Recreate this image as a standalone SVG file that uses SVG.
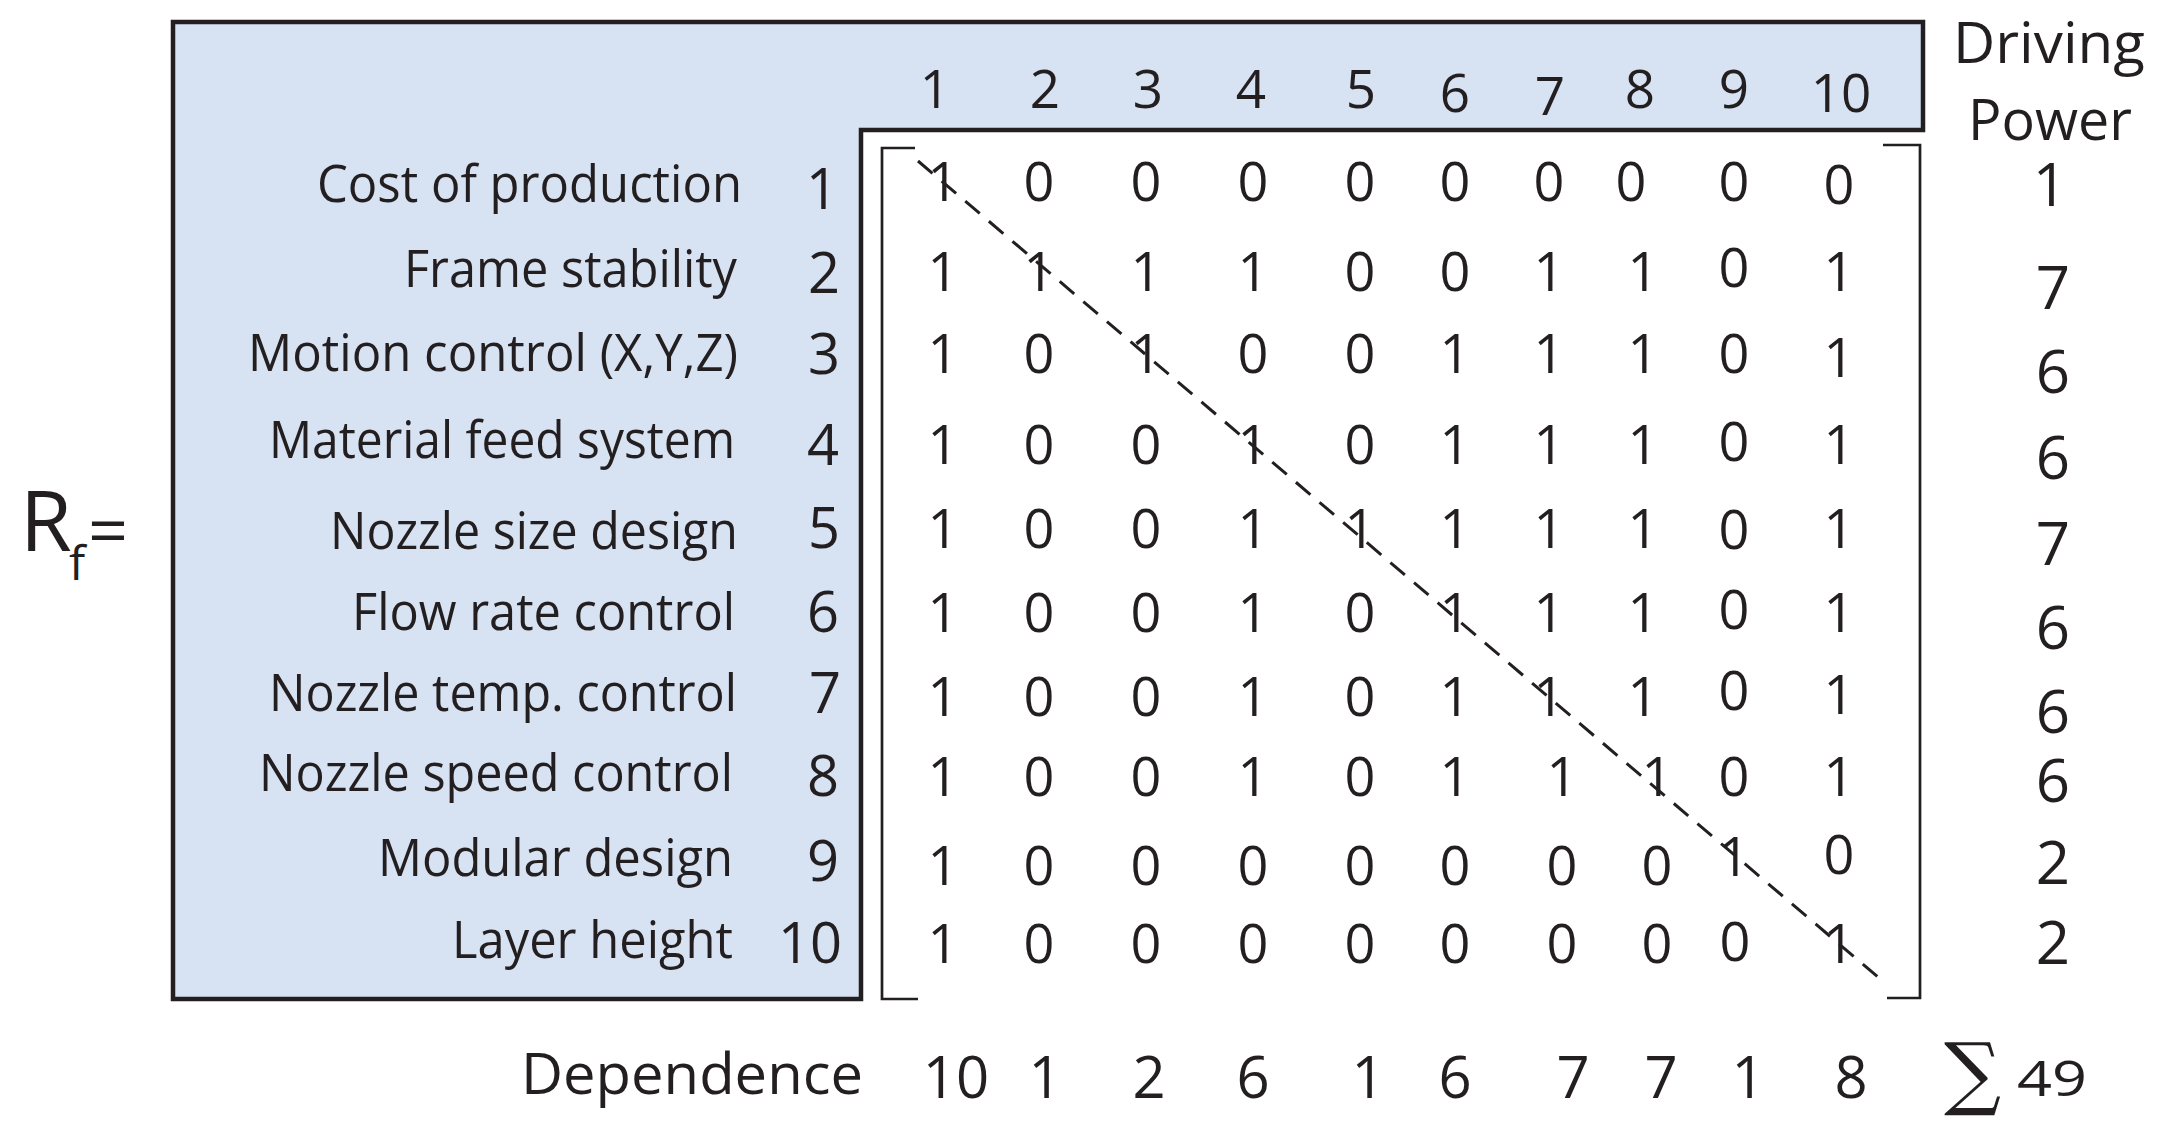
<svg xmlns="http://www.w3.org/2000/svg" width="2164" height="1139" viewBox="0 0 2164 1139">
<style>
.t{font-family:"Open Sans","Noto Sans","Liberation Sans",sans-serif;fill:#231F20}
.lab{font-size:51px}
.num{font-size:56px;text-anchor:middle}
.hd{font-size:53px;text-anchor:middle}
.v{font-size:54px;text-anchor:middle}
.dp{font-size:60px;text-anchor:middle}
.dep{font-size:58px;text-anchor:middle}
.frame{fill:#D7E2F2;stroke:#231F20;stroke-width:4.5;stroke-linejoin:miter}
.br{fill:none;stroke:#231F20;stroke-width:2.7}
.diag{fill:none;stroke:#231F20;stroke-width:3;stroke-dasharray:19 12}
</style>
<rect width="2164" height="1139" fill="#FFFFFF"/>
<g id="frame">
<polygon class="frame" points="173,22 1923,22 1923,130 861,130 861,999 173,999"/>
</g>
<g id="brackets">
<polyline class="br" points="915,148 882,148 882,999 918,999"/>
<polyline class="br" points="1883,145 1920,145 1920,998 1887,998"/>
</g>
<g id="rf">
<text class="t" x="20" y="551" font-size="84">R</text>
<text class="t" x="69" y="580" font-size="48">f</text>
<text class="t" x="88" y="555" font-size="70">=</text>
</g>
<g id="column-headers">
<text class="t hd" x="935" y="108">1</text>
<text class="t hd" x="1045" y="108">2</text>
<text class="t hd" x="1148" y="108">3</text>
<text class="t hd" x="1251" y="108">4</text>
<text class="t hd" x="1361" y="108">5</text>
<text class="t hd" x="1455" y="112">6</text>
<text class="t hd" x="1550" y="115">7</text>
<text class="t hd" x="1640" y="108">8</text>
<text class="t hd" x="1734" y="108">9</text>
<text class="t hd" x="1841" y="112">10</text>
</g>
<g id="row-labels">
<text class="t lab" x="317" y="202" textLength="425" lengthAdjust="spacingAndGlyphs">Cost of production</text>
<text class="t lab" x="404" y="287" textLength="333" lengthAdjust="spacingAndGlyphs">Frame stability</text>
<text class="t lab" x="248" y="371" textLength="490" lengthAdjust="spacingAndGlyphs">Motion control (X,Y,Z)</text>
<text class="t lab" x="269" y="458" textLength="466" lengthAdjust="spacingAndGlyphs">Material feed system</text>
<text class="t lab" x="330" y="549" textLength="408" lengthAdjust="spacingAndGlyphs">Nozzle size design</text>
<text class="t lab" x="352" y="630" textLength="383" lengthAdjust="spacingAndGlyphs">Flow rate control</text>
<text class="t lab" x="269" y="711" textLength="468" lengthAdjust="spacingAndGlyphs">Nozzle temp. control</text>
<text class="t lab" x="259" y="791" textLength="474" lengthAdjust="spacingAndGlyphs">Nozzle speed control</text>
<text class="t lab" x="378" y="876" textLength="355" lengthAdjust="spacingAndGlyphs">Modular design</text>
<text class="t lab" x="452" y="958" textLength="281" lengthAdjust="spacingAndGlyphs">Layer height</text>
</g>
<g id="row-numbers">
<text class="t num" x="822" y="209">1</text>
<text class="t num" x="824" y="293">2</text>
<text class="t num" x="824" y="374">3</text>
<text class="t num" x="823" y="465">4</text>
<text class="t num" x="824" y="548">5</text>
<text class="t num" x="823" y="632">6</text>
<text class="t num" x="825" y="713">7</text>
<text class="t num" x="823" y="796">8</text>
<text class="t num" x="823" y="881">9</text>
<text class="t num" x="810" y="963">10</text>
</g>
<g id="matrix">
<g id="row1">
<text class="t v" x="943" y="201">1</text><text class="t v" x="1039" y="201">0</text><text class="t v" x="1146" y="201">0</text><text class="t v" x="1253" y="201">0</text><text class="t v" x="1360" y="201">0</text><text class="t v" x="1455" y="201">0</text><text class="t v" x="1549" y="201">0</text><text class="t v" x="1631" y="201">0</text><text class="t v" x="1734" y="201">0</text><text class="t v" x="1839" y="204">0</text>
</g>
<g id="row2">
<text class="t v" x="943" y="291">1</text><text class="t v" x="1039" y="291">1</text><text class="t v" x="1146" y="291">1</text><text class="t v" x="1253" y="291">1</text><text class="t v" x="1360" y="291">0</text><text class="t v" x="1455" y="291">0</text><text class="t v" x="1549" y="291">1</text><text class="t v" x="1643" y="291">1</text><text class="t v" x="1734" y="287">0</text><text class="t v" x="1839" y="291">1</text>
</g>
<g id="row3">
<text class="t v" x="943" y="373">1</text><text class="t v" x="1039" y="373">0</text><text class="t v" x="1146" y="373">1</text><text class="t v" x="1253" y="373">0</text><text class="t v" x="1360" y="373">0</text><text class="t v" x="1455" y="373">1</text><text class="t v" x="1549" y="373">1</text><text class="t v" x="1643" y="373">1</text><text class="t v" x="1734" y="373">0</text><text class="t v" x="1839" y="377">1</text>
</g>
<g id="row4">
<text class="t v" x="943" y="464">1</text><text class="t v" x="1039" y="464">0</text><text class="t v" x="1146" y="464">0</text><text class="t v" x="1253" y="464">1</text><text class="t v" x="1360" y="464">0</text><text class="t v" x="1455" y="464">1</text><text class="t v" x="1549" y="464">1</text><text class="t v" x="1643" y="464">1</text><text class="t v" x="1734" y="461">0</text><text class="t v" x="1839" y="464">1</text>
</g>
<g id="row5">
<text class="t v" x="943" y="548">1</text><text class="t v" x="1039" y="548">0</text><text class="t v" x="1146" y="548">0</text><text class="t v" x="1253" y="548">1</text><text class="t v" x="1360" y="548">1</text><text class="t v" x="1455" y="548">1</text><text class="t v" x="1549" y="548">1</text><text class="t v" x="1643" y="548">1</text><text class="t v" x="1734" y="549">0</text><text class="t v" x="1839" y="548">1</text>
</g>
<g id="row6">
<text class="t v" x="943" y="632">1</text><text class="t v" x="1039" y="632">0</text><text class="t v" x="1146" y="632">0</text><text class="t v" x="1253" y="632">1</text><text class="t v" x="1360" y="632">0</text><text class="t v" x="1455" y="632">1</text><text class="t v" x="1549" y="632">1</text><text class="t v" x="1643" y="632">1</text><text class="t v" x="1734" y="629">0</text><text class="t v" x="1839" y="632">1</text>
</g>
<g id="row7">
<text class="t v" x="943" y="716">1</text><text class="t v" x="1039" y="716">0</text><text class="t v" x="1146" y="716">0</text><text class="t v" x="1253" y="716">1</text><text class="t v" x="1360" y="716">0</text><text class="t v" x="1455" y="716">1</text><text class="t v" x="1549" y="716">1</text><text class="t v" x="1643" y="716">1</text><text class="t v" x="1734" y="710">0</text><text class="t v" x="1839" y="714">1</text>
</g>
<g id="row8">
<text class="t v" x="943" y="796">1</text><text class="t v" x="1039" y="796">0</text><text class="t v" x="1146" y="796">0</text><text class="t v" x="1253" y="796">1</text><text class="t v" x="1360" y="796">0</text><text class="t v" x="1455" y="796">1</text><text class="t v" x="1562" y="796">1</text><text class="t v" x="1657" y="796">1</text><text class="t v" x="1734" y="796">0</text><text class="t v" x="1839" y="796">1</text>
</g>
<g id="row9">
<text class="t v" x="943" y="885">1</text><text class="t v" x="1039" y="885">0</text><text class="t v" x="1146" y="885">0</text><text class="t v" x="1253" y="885">0</text><text class="t v" x="1360" y="885">0</text><text class="t v" x="1455" y="885">0</text><text class="t v" x="1562" y="885">0</text><text class="t v" x="1657" y="885">0</text><text class="t v" x="1734" y="876">1</text><text class="t v" x="1839" y="874">0</text>
</g>
<g id="row10">
<text class="t v" x="943" y="963">1</text><text class="t v" x="1039" y="963">0</text><text class="t v" x="1146" y="963">0</text><text class="t v" x="1253" y="963">0</text><text class="t v" x="1360" y="963">0</text><text class="t v" x="1455" y="963">0</text><text class="t v" x="1562" y="963">0</text><text class="t v" x="1657" y="963">0</text><text class="t v" x="1735" y="961">0</text><text class="t v" x="1839" y="963">1</text>
</g>
</g>
<g id="diagonal">
<line class="diag" x1="918" y1="161" x2="1885" y2="983"/>
</g>
<g id="driving-power">
<text class="t" x="1953" y="63" font-size="57" textLength="192" lengthAdjust="spacingAndGlyphs">Driving</text>
<text class="t" x="1968" y="140" font-size="57" textLength="164" lengthAdjust="spacingAndGlyphs">Power</text>
<text class="t dp" x="2050" y="206" font-size="52">1</text>
<text class="t dp" x="2053" y="309">7</text>
<text class="t dp" x="2053" y="393">6</text>
<text class="t dp" x="2053" y="479">6</text>
<text class="t dp" x="2053" y="565">7</text>
<text class="t dp" x="2053" y="649">6</text>
<text class="t dp" x="2053" y="733">6</text>
<text class="t dp" x="2053" y="802">6</text>
<text class="t dp" x="2053" y="884">2</text>
<text class="t dp" x="2053" y="964">2</text>
</g>
<g id="dependence">
<text class="t" x="521" y="1094" font-size="56" textLength="342" lengthAdjust="spacingAndGlyphs">Dependence</text>
<text class="t dep" x="956" y="1098">10</text>
<text class="t dep" x="1045" y="1098">1</text>
<text class="t dep" x="1149" y="1098">2</text>
<text class="t dep" x="1253" y="1098">6</text>
<text class="t dep" x="1368" y="1098">1</text>
<text class="t dep" x="1455" y="1098">6</text>
<text class="t dep" x="1573" y="1098">7</text>
<text class="t dep" x="1661" y="1098">7</text>
<text class="t dep" x="1748" y="1098">1</text>
<text class="t dep" x="1851" y="1098">8</text>
<text x="1944" y="1100" font-family="'DejaVu Serif','Liberation Serif',serif" font-size="80" fill="#231F20">∑</text>
<text class="t" x="2017" y="1096" font-size="49" textLength="70" lengthAdjust="spacingAndGlyphs">49</text>
</g>
</svg>
